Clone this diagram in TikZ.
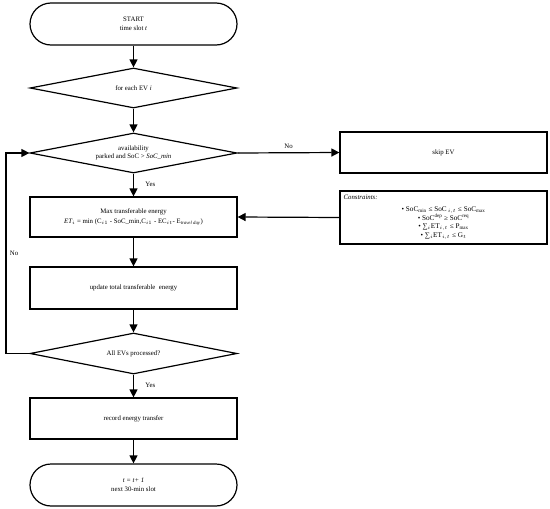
\documentclass[tikz,border=0pt]{standalone}
\usepackage{fontspec}
\setmainfont{Liberation Serif}
\usetikzlibrary{shapes.geometric,arrows.meta}

\tikzset{
  flow/.style={draw,line width=1.2pt,align=center,font=\fontsize{6.8}{8.5}\selectfont,inner sep=1pt},
  term/.style={flow,rectangle,rounded corners=21pt,minimum width=207pt,minimum height=42pt},
  procbox/.style={flow,rectangle,minimum width=207pt,minimum height=41pt},
  decide/.style={flow,diamond,aspect=5,minimum width=207pt,minimum height=40pt},
  arr/.style={line width=1.2pt,-{Triangle[length=8pt,width=8pt]}},
  lbl/.style={font=\fontsize{6.8}{8.5}\selectfont}
}

\begin{document}
\begin{tikzpicture}[x=1pt,y=-1pt]
\useasboundingbox (0,0) rectangle (550,509);

\node[term] (start) at (133.5,24) {START\\time slot \textit{t}};
\node[decide] (each) at (133.5,88) {for each EV \textit{i}};
\node[decide] (avail) at (133.5,153) {availability\\parked and SoC > \textit{SoC\_min}};
\node[procbox] (skip) at (443.5,152.5) {skip EV};
\node[procbox,minimum height=40pt] (maxE) at (133.5,217)
  {Max transferable energy\\[1pt]
   \textit{ET$_i$} = min (C$_{i1}$ - SoC\_min,C$_{i1}$ - EC$_{it}$- E$_{\mathit{travel\,day}}$)};
\node[procbox,minimum height=53pt] (cons) at (443.5,217.5) {};
\node[lbl,anchor=north west,inner sep=1pt] (constitle) at ([xshift=3pt,yshift=-3pt]cons.north west) {\textit{Constraints:}};
\node[align=center,inner sep=0pt,font=\fontsize{7.2}{8.7}\selectfont] (conslist) at ([yshift=-5.5pt]cons.center)
  {• SoC$_{\mathrm{min}}$ ≤ SoC$_{\,i,t}$ ≤ SoC$_{\mathrm{max}}$\\
   • SoC$^{\mathrm{dep}}$ ≥ SoC$^{\mathrm{req}}$\\
   • ∑$_{i}$ET$_{i,t}$ ≤ P$_{\mathrm{max}}$\\
   • ∑$_{i}$ET$_{i,t}$ ≤ G$_t$};
\node[procbox,minimum height=42pt] (update) at (133.5,288) {update total transferable\ \ energy};
\node[decide,minimum height=41pt] (allEV) at (133.5,353.5) {All EVs processed?};
\node[procbox] (record) at (133.5,418.5) {record energy transfer};
\node[term] (stop) at (133.5,485) {\textit{t = t+ 1}\\next 30-min slot};

\coordinate (loopB) at (6,353.5);
\coordinate (loopT) at (6,153);

\draw[arr] (start) -- (each);
\draw[arr] (each) -- (avail);
\draw[arr] (avail) -- node[lbl,right,pos=0.45,xshift=8pt] {Yes} (maxE);
\draw[arr] (avail.east) -- node[lbl,above,pos=0.5] {No} (skip.west);
\draw[arr] (cons.west) -- (maxE.east);
\draw[arr] (maxE) -- (update);
\draw[arr] (update) -- (allEV);
\draw[arr] (allEV) -- node[lbl,right,pos=0.45,xshift=8pt] {Yes} (record);
\draw[arr] (record) -- (stop);
\draw[arr] (allEV.west) -- (loopB) -- node[lbl,right,pos=0.5] {No} (loopT) -- (avail.west);
\end{tikzpicture}
\end{document}
